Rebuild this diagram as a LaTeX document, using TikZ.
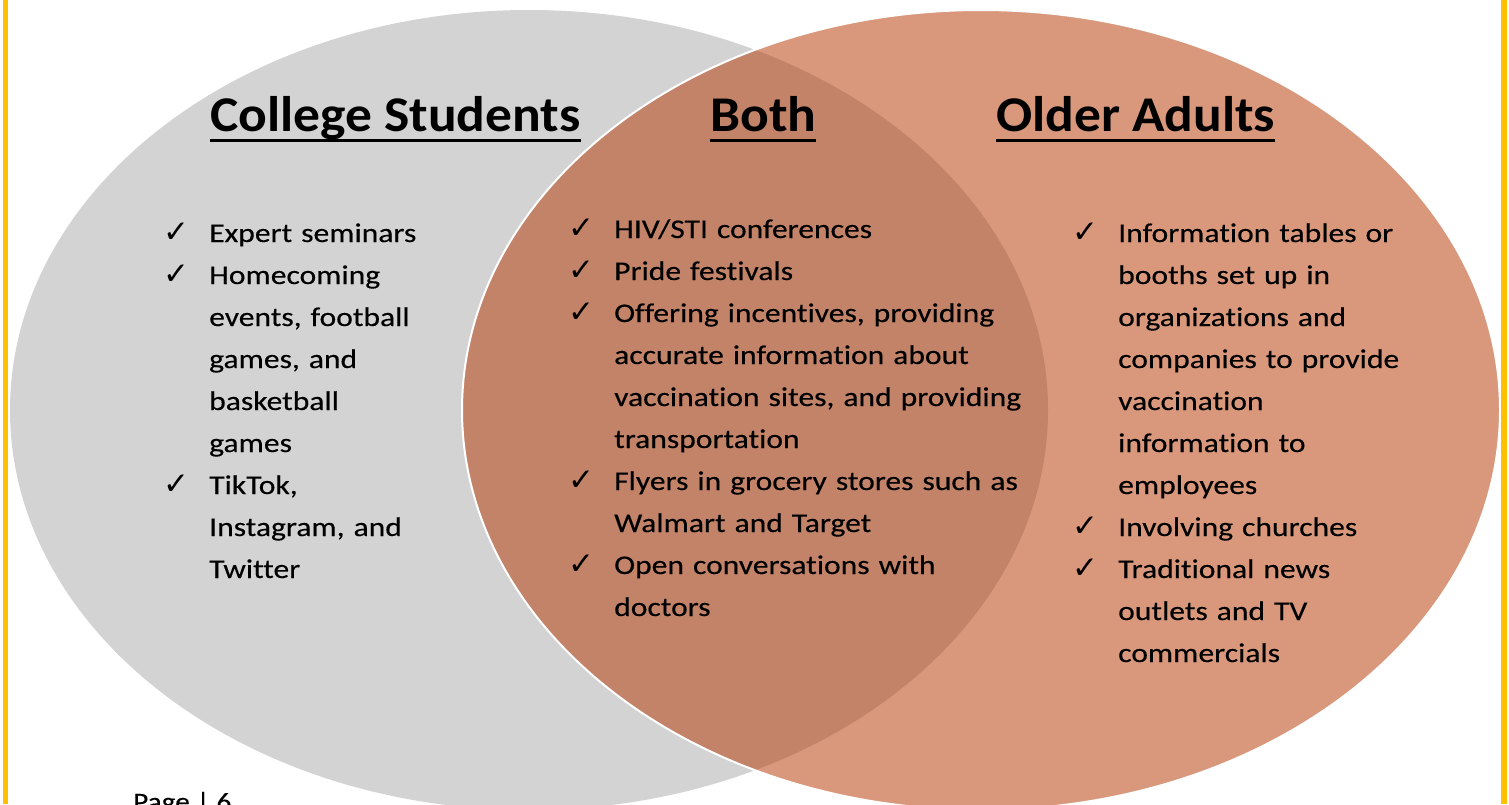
\documentclass[tikz,border=0pt]{standalone}
\usepackage{fontspec}
\setmainfont[Ligatures=NoCommon]{Carlito}
\newfontfamily\bodyfont[Ligatures=NoCommon,FakeStretch=1.17,FakeBold=0.3]{Carlito}
\newfontfamily\headfont[Ligatures=NoCommon,FakeStretch=1.07]{Carlito}
\newfontfamily\tickfont{DejaVu Sans}
\definecolor{vgray}{RGB}{211,211,211}
\definecolor{vsalmon}{RGB}{217,152,124}
\definecolor{vboth}{RGB}{194,131,105}
\definecolor{vframe}{RGB}{255,192,0}
\newcommand{\vtick}{\noindent\hangindent=46pt\hangafter=1\makebox[46pt][l]{\tickfont\fontsize{31}{42}\selectfont ✓}}
\newcommand{\vbr}{\hfil\break}
\begin{document}
\begin{tikzpicture}[x=1pt,y=-1pt,
    head/.style={inner sep=0pt,anchor=base west,font=\headfont\fontsize{50}{56}\selectfont\bfseries},
    list/.style={inner sep=0pt,anchor=base west,text width=480pt,align=left,font=\bodyfont\fontsize{27}{42}\selectfont},
    uline/.style={line width=3pt}]
    \useasboundingbox (0,0) rectangle (1509,804);
    \fill[white] (0,0) rectangle (1509,804);
    \fill[vgray] (529,410) ellipse [x radius=519,y radius=400];
    \fill[vsalmon] (981,410) ellipse [x radius=519,y radius=400];
    \begin{scope}
        \clip (529,410) ellipse [x radius=519,y radius=400];
        \fill[vboth] (981,410) ellipse [x radius=519,y radius=400];
    \end{scope}
    \draw[white,line width=2pt] (981,410) ellipse [x radius=519,y radius=400];
    \fill[vframe] (3,0) rectangle (8,804);
    \fill[vframe] (1501,0) rectangle (1507,804);

    \node[head] (cs) at (210,131) {College Students};
    \node[head] (bo) at (710,131) {Both};
    \node[head] (oa) at (996,131) {Older Adults};
    \draw[uline] ([yshift=-9pt]cs.base west) -- ([yshift=-9pt]cs.base east);
    \draw[uline] ([yshift=-9pt]bo.base west) -- ([yshift=-9pt]bo.base east);
    \draw[uline] ([yshift=-9pt]oa.base west) -- ([yshift=-9pt]oa.base east);

    \node[list] (csl) at (163,242) {%
        \vtick Expert seminars\par
        \vtick Homecoming\vbr events, football\vbr games, and\vbr basketball\vbr games\par
        \vtick TikTok,\vbr Instagram, and\vbr Twitter\par};
    \node[list] (bol) at (568,238) {%
        \vtick HIV/STI conferences\par
        \vtick Pride festivals\par
        \vtick Offering incentives, providing\vbr accurate information about\vbr vaccination sites, and providing\vbr transportation\par
        \vtick Flyers in grocery stores such as\vbr Walmart and Target\par
        \vtick Open conversations with\vbr doctors\par};
    \node[list] (oal) at (1072,242) {%
        \vtick Information tables or\vbr booths set up in\vbr organizations and\vbr companies to provide\vbr vaccination\vbr information to\vbr employees\par
        \vtick Involving churches\par
        \vtick Traditional news\vbr outlets and TV\vbr commercials\par};
    \node[inner sep=0pt,anchor=base west,font=\bodyfont\fontsize{25}{30}\selectfont] (pg) at (133,810) {Page | 6};
\end{tikzpicture}
\end{document}
